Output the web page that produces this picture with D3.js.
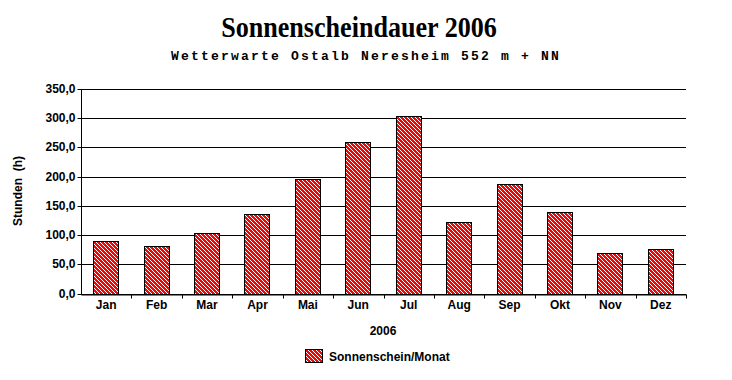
<!DOCTYPE html>
<html>
<head>
<meta charset="utf-8">
<script src="https://cdn.jsdelivr.net/npm/d3@7"></script>
<style>
  body { margin: 0; background: #fff; }
  svg { display: block; }
</style>
</head>
<body>
<div id="chart"></div>
<script>
// data
var months = ["Jan","Feb","Mar","Apr","Mai","Jun","Jul","Aug","Sep","Okt","Nov","Dez"];
var sunHours = [90, 82, 103, 136, 196, 259, 303, 122, 187, 140, 69, 77];
var yTicks = [0, 50, 100, 150, 200, 250, 300, 350];

var width = 732, height = 380;
var plotLeft = 81, plotRight = 686, plotTop = 89, plotBottom = 293.5;

var svg = d3.select("#chart").append("svg")
  .attr("width", width)
  .attr("height", height);

// red box with white "\" hatching: single pixels on every 4th diagonal
function hatchBox(g, bx, by, bw, bh) {
  g.append("rect")
    .attr("x", bx).attr("y", by)
    .attr("width", bw).attr("height", bh)
    .attr("fill", "#ff0000")
    .attr("shape-rendering", "crispEdges");
  var d = "";
  for (var py = by + 1; py < by + bh - 1; py++) {
    for (var px = bx + 1; px < bx + bw - 1; px++) {
      if (((px - py) % 4 + 4) % 4 === 2) d += "M" + px + "," + py + "h1v1h-1z";
    }
  }
  g.append("path")
    .attr("d", d)
    .attr("fill", "#ffffff")
    .attr("shape-rendering", "crispEdges");
  g.append("rect")
    .attr("x", bx + 0.5).attr("y", by + 0.5)
    .attr("width", bw - 1).attr("height", bh - 1)
    .attr("fill", "none")
    .attr("stroke", "#000")
    .attr("shape-rendering", "crispEdges");
}

var x = d3.scaleBand()
  .domain(months)
  .range([plotLeft, plotRight])
  .paddingInner(0)
  .paddingOuter(0);

var y = d3.scaleLinear()
  .domain([0, 350])
  .range([plotBottom, plotTop]);

// gridlines
svg.append("g")
  .selectAll("line")
  .data(yTicks)
  .join("line")
  .attr("x1", plotLeft)
  .attr("x2", plotRight)
  .attr("y1", d => Math.round(y(d)) + 0.5)
  .attr("y2", d => Math.round(y(d)) + 0.5)
  .style("stroke", "#000")
  .style("stroke-width", 1);

// bars
var bw = Math.round(x.bandwidth() * 0.5) + 1;
var barG = svg.append("g");
sunHours.forEach(function(v, i) {
  var bx = Math.round(x(months[i]) + (x.bandwidth() - bw) / 2);
  var by = Math.round(y(v));
  var bh = Math.round(y(0)) - by + 1;
  hatchBox(barG, bx, by, bw, bh);
});

// y axis
var yAxis = svg.append("g")
  .attr("transform", "translate(" + (plotLeft + 0.5) + ",0.5)")
  .call(d3.axisLeft(y)
    .tickValues(yTicks)
    .tickSize(4)
    .tickPadding(2)
    .tickFormat(d => d3.format(".1f")(d).replace(".", ",")));
yAxis.selectAll("text")
  .style("font-family", "Arial, 'Liberation Sans', sans-serif")
  .style("font-size", "12px")
  .style("font-weight", "bold")
  .style("fill", "#000");
yAxis.selectAll("line, path").style("stroke", "#000");
yAxis.selectAll(".tick").attr("transform", d => "translate(0," + Math.round(y(d)) + ")");
yAxis.select(".domain").attr("d", "M0," + Math.round(y(0)) + "V" + Math.round(y(350)));

// x axis
var xAxis = svg.append("g")
  .attr("transform", "translate(0," + (Math.round(y(0)) + 0.5) + ")")
  .call(d3.axisBottom(x).tickSize(0).tickPadding(6));
xAxis.selectAll("text")
  .style("font-family", "Arial, 'Liberation Sans', sans-serif")
  .style("font-size", "12px")
  .style("font-weight", "bold")
  .style("fill", "#000");
xAxis.select(".domain").style("stroke", "#000");
// boundary ticks between categories
xAxis.append("g")
  .selectAll("line")
  .data(months)
  .join("line")
  .attr("x1", d => Math.round(x(d) + x.bandwidth()) + 0.5)
  .attr("x2", d => Math.round(x(d) + x.bandwidth()) + 0.5)
  .attr("y1", 0)
  .attr("y2", 4)
  .style("stroke", "#000");

// titles
svg.append("text")
  .attr("transform", "translate(359,37) scale(0.9,1)")
  .attr("text-anchor", "middle")
  .style("font-family", "'Liberation Serif', 'Times New Roman', serif")
  .style("font-size", "29px")
  .style("font-weight", "bold")
  .text("Sonnenscheindauer 2006");

svg.append("text")
  .attr("x", 366)
  .attr("y", 60)
  .attr("text-anchor", "middle")
  .style("font-family", "'Liberation Mono', 'Courier New', monospace")
  .style("font-size", "13px")
  .style("font-weight", "bold")
  .style("letter-spacing", "2.2px")
  .text("Wetterwarte Ostalb Neresheim 552 m + NN");

svg.append("text")
  .attr("x", 383)
  .attr("y", 335)
  .attr("text-anchor", "middle")
  .style("font-family", "Arial, 'Liberation Sans', sans-serif")
  .style("font-size", "12px")
  .style("font-weight", "bold")
  .text("2006");

svg.append("text")
  .attr("transform", "translate(22,191) rotate(-90)")
  .attr("text-anchor", "middle")
  .style("font-family", "Arial, 'Liberation Sans', sans-serif")
  .style("font-size", "12px")
  .style("font-weight", "bold")
  .style("white-space", "pre")
  .text("Stunden  (h)");

// legend
hatchBox(svg.append("g"), 305, 349, 18, 14);
svg.append("text")
  .attr("x", 329)
  .attr("y", 361)
  .style("font-family", "Arial, 'Liberation Sans', sans-serif")
  .style("font-size", "12px")
  .style("font-weight", "bold")
  .text("Sonnenschein/Monat");
</script>
</body>
</html>
